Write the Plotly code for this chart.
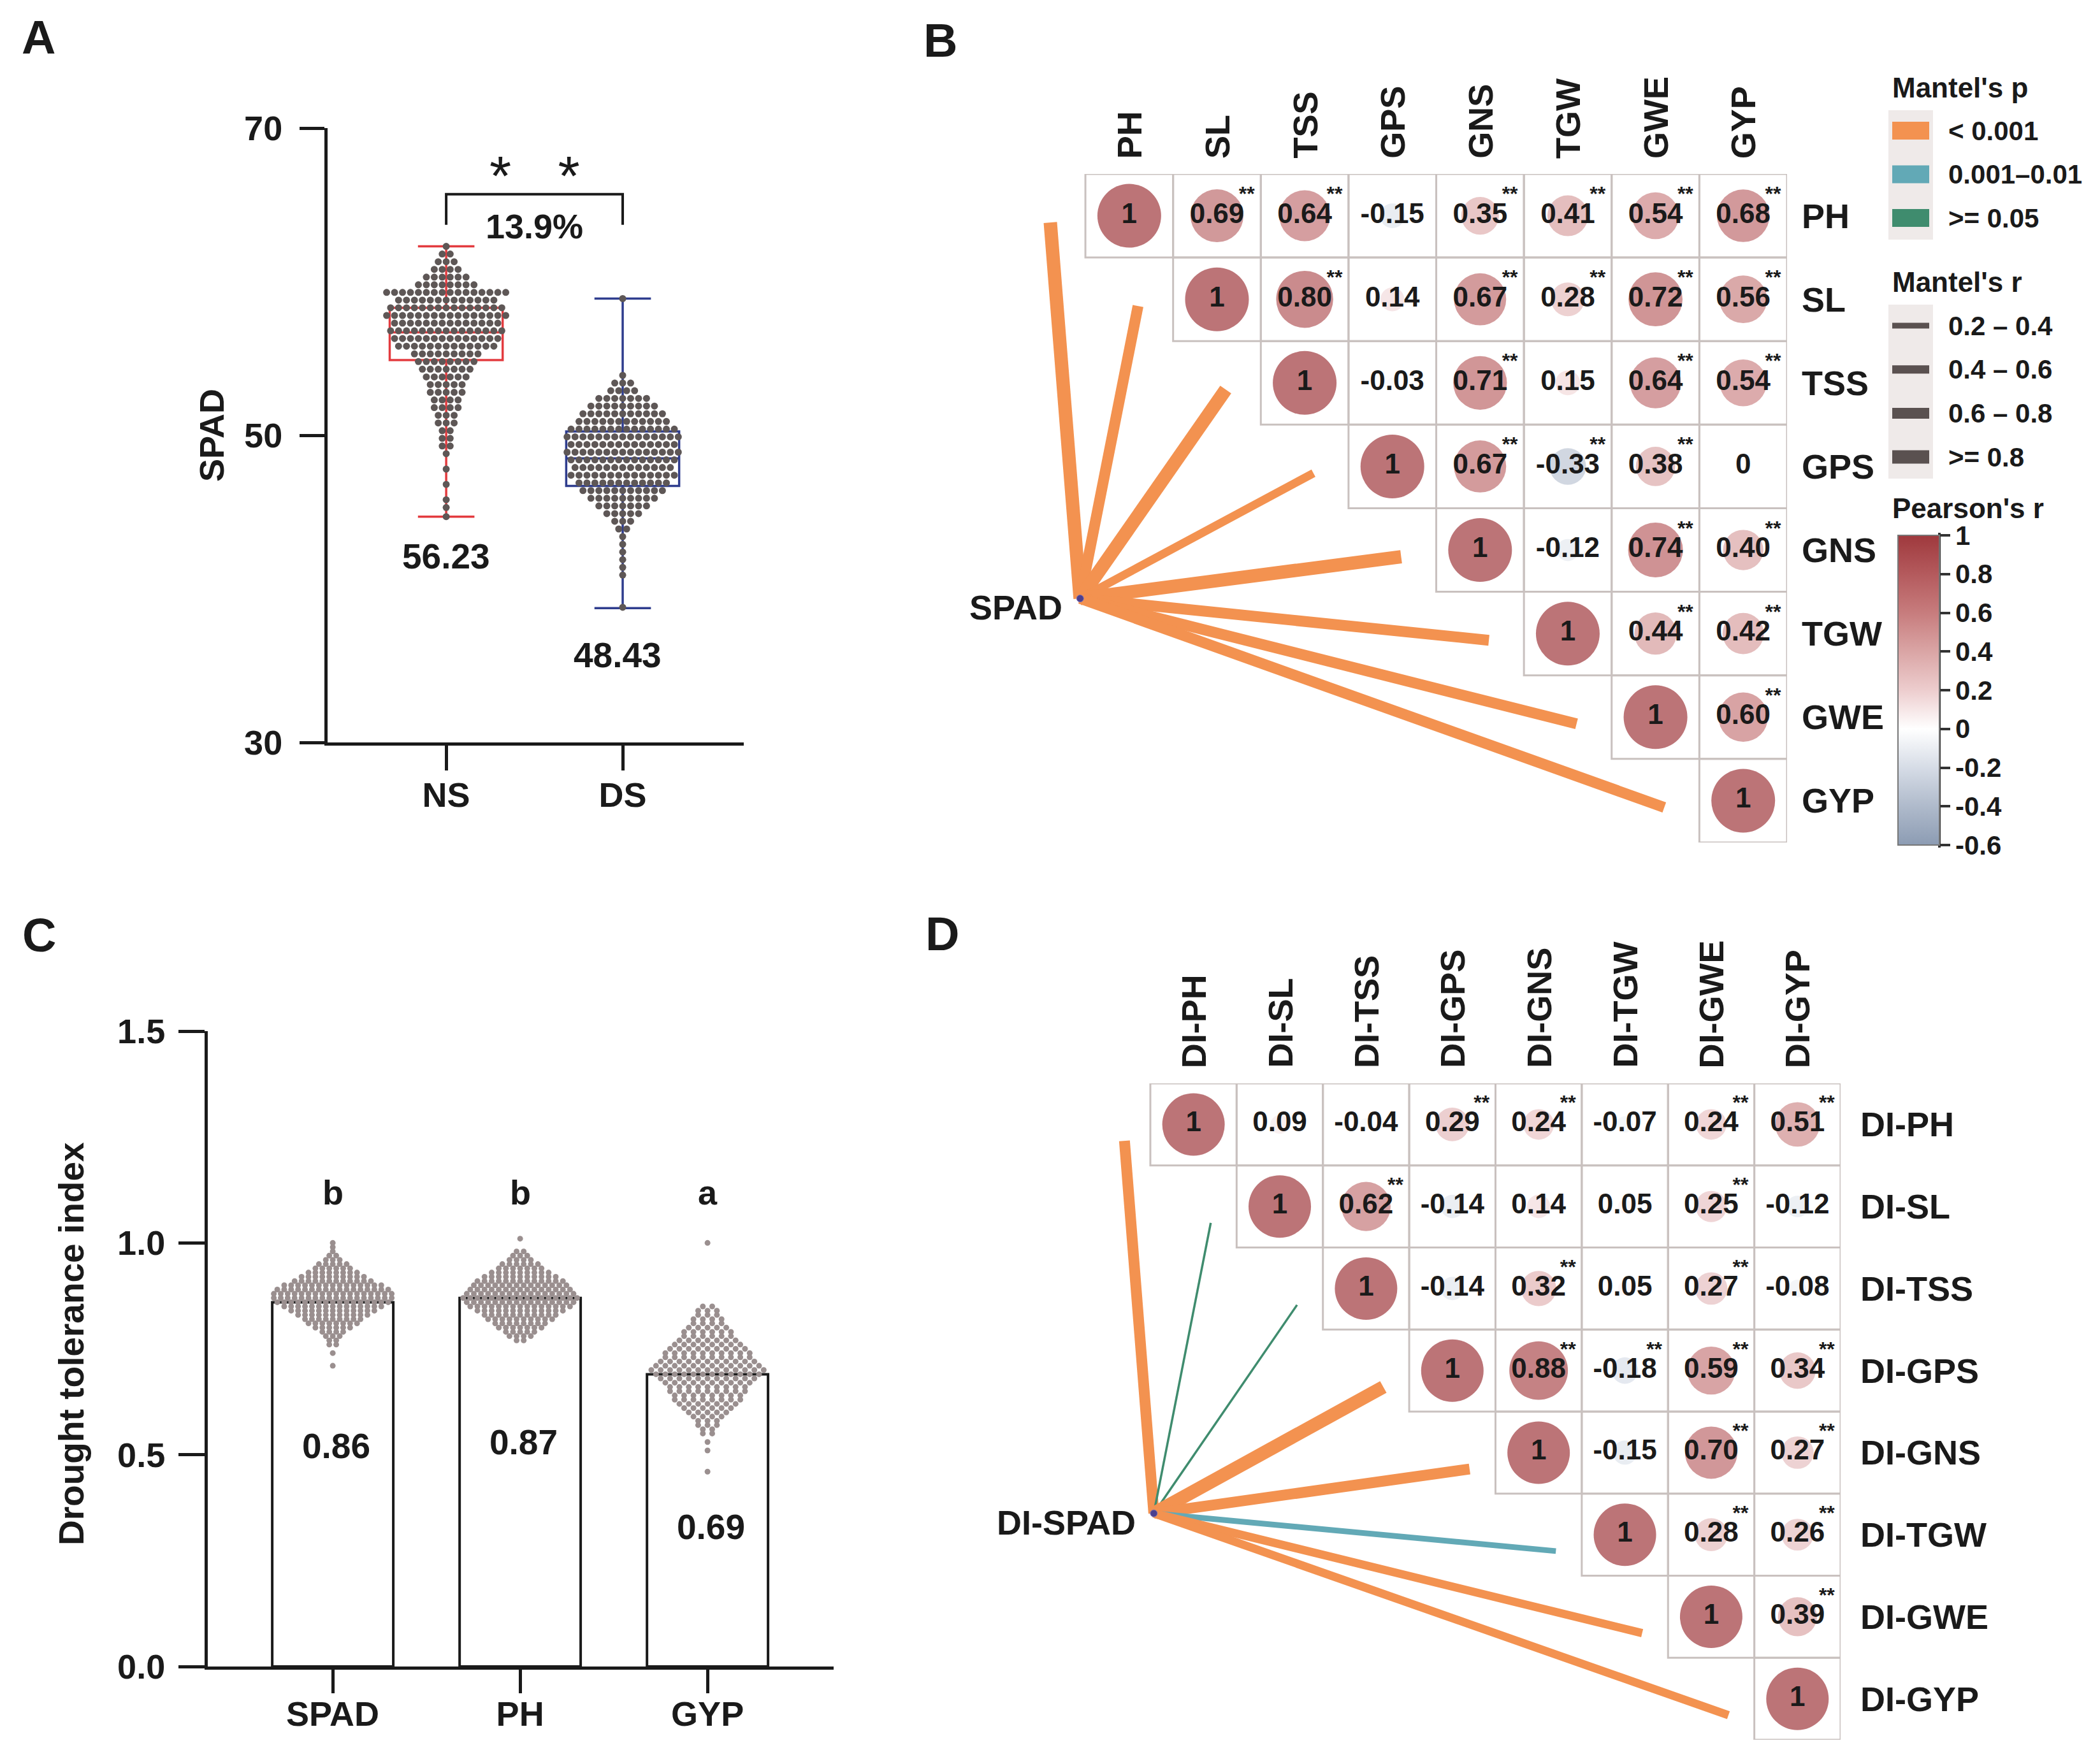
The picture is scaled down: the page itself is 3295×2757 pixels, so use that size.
import math
import plotly.graph_objects as go

W, H = 3295, 2757
FONT = "Liberation Sans, Arial, sans-serif"
INK = "#1a1a1a"

# ---------------- Panel A data ----------------
A_GROUPS = ["NS", "DS"]
A_MEANS = ["56.23", "48.43"]
A_Q1 = [54.9, 46.7]
A_MED = [56.7, 48.5]
A_Q3 = [58.3, 50.25]
A_LO = [44.7, 38.75]
A_HI = [62.3, 58.9]
A_COLORS = ["#E33B3F", "#2F3D8E"]
A_PCT = "13.9%"
NS_BINS = [62.3, 61.8, 61.3, 60.8, 60.3, 59.8, 59.3, 58.8, 58.3, 57.8, 57.3, 56.8, 56.3,
           55.8, 55.3, 54.8, 54.3, 53.8, 53.3, 52.8, 52.3, 51.8, 51.3, 50.8, 50.3, 49.8,
           49.3, 48.8, 47.8, 46.8, 45.8, 45.3, 44.7]
NS_COUNTS = [1, 2, 3, 4, 6, 8, 16, 13, 15, 16, 14, 15, 14, 13, 9, 8, 7, 6, 5, 5, 4, 4, 3,
             3, 2, 2, 2, 1, 1, 1, 1, 1, 1]
DS_BINS = [58.9, 53.9, 53.4, 52.9, 52.4, 51.9, 51.4, 50.9, 50.4, 49.9, 49.4, 48.9, 48.4,
           47.9, 47.4, 46.9, 46.4, 45.9, 45.4, 44.9, 44.4, 43.9, 43.4, 42.9, 42.4, 41.9,
           41.4, 40.9, 38.8]
DS_COUNTS = [1, 1, 3, 4, 7, 9, 11, 12, 14, 15, 14, 15, 14, 13, 14, 12, 11, 9, 7, 5, 3, 2,
             1, 1, 1, 1, 1, 1, 1]

# ---------------- Panel C data ----------------
C_TRAITS = ["SPAD", "PH", "GYP"]
C_MEANS = [0.86, 0.87, 0.69]
C_LETTERS = ["b", "b", "a"]
C_SPAD_BINS = [1.00, 0.99, 0.98, 0.97, 0.96, 0.95, 0.94, 0.93, 0.92, 0.91, 0.90, 0.89, 0.88,
               0.87, 0.86, 0.85, 0.84, 0.83, 0.82, 0.81, 0.80, 0.79, 0.78, 0.77, 0.76, 0.74, 0.71]
C_SPAD_COUNTS = [1, 1, 1, 2, 3, 5, 6, 8, 10, 12, 15, 17, 18, 18, 17, 15, 13, 11, 9, 8, 6, 4,
                 3, 2, 2, 1, 1]
C_PH_BINS = [1.01, 0.98, 0.97, 0.96, 0.95, 0.94, 0.93, 0.92, 0.91, 0.90, 0.89, 0.88, 0.87,
             0.86, 0.85, 0.84, 0.83, 0.82, 0.81, 0.80, 0.79, 0.78, 0.77]
C_PH_COUNTS = [1, 2, 3, 4, 6, 7, 9, 11, 13, 14, 15, 16, 17, 16, 15, 13, 11, 10, 8, 7, 5, 4, 2]
C_GYP_BINS = [1.00, 0.85, 0.84, 0.83, 0.82, 0.81, 0.80, 0.79, 0.78, 0.77, 0.76, 0.75, 0.74,
              0.73, 0.72, 0.71, 0.70, 0.69, 0.68, 0.67, 0.66, 0.65, 0.64, 0.63, 0.62, 0.61,
              0.60, 0.59, 0.58, 0.57, 0.56, 0.55, 0.53, 0.51, 0.46]
C_GYP_COUNTS = [1, 2, 3, 3, 4, 4, 5, 6, 6, 7, 8, 9, 10, 10, 11, 12, 13, 12, 11, 10, 9, 9, 8,
                8, 7, 6, 5, 4, 3, 3, 2, 2, 1, 1, 1]

# ---------------- Panel B data (upper triangle rows, starting at diagonal) -------------
B_TRAITS = ["PH", "SL", "TSS", "GPS", "GNS", "TGW", "GWE", "GYP"]
B_R = [
    [1, 0.69, 0.64, -0.15, 0.35, 0.41, 0.54, 0.68],
    [1, 0.80, 0.14, 0.67, 0.28, 0.72, 0.56],
    [1, -0.03, 0.71, 0.15, 0.64, 0.54],
    [1, 0.67, -0.33, 0.38, 0],
    [1, -0.12, 0.74, 0.40],
    [1, 0.44, 0.42],
    [1, 0.60],
    [1],
]
B_SIG = [
    [0, 1, 1, 0, 1, 1, 1, 1],
    [0, 1, 0, 1, 1, 1, 1],
    [0, 0, 1, 0, 1, 1],
    [0, 1, 1, 1, 0],
    [0, 0, 1, 1],
    [0, 1, 1],
    [0, 1],
    [0],
]
B_ENV = "SPAD"
B_MANTEL_P = ["<0.001"] * 8
B_MANTEL_R = [">=0.8", "0.6-0.8", ">=0.8", "0.4-0.6", ">=0.8", "0.6-0.8", "0.6-0.8", "0.6-0.8"]

# ---------------- Panel D data ----------------
D_TRAITS = ["DI-PH", "DI-SL", "DI-TSS", "DI-GPS", "DI-GNS", "DI-TGW", "DI-GWE", "DI-GYP"]
D_R = [
    [1, 0.09, -0.04, 0.29, 0.24, -0.07, 0.24, 0.51],
    [1, 0.62, -0.14, 0.14, 0.05, 0.25, -0.12],
    [1, -0.14, 0.32, 0.05, 0.27, -0.08],
    [1, 0.88, -0.18, 0.59, 0.34],
    [1, -0.15, 0.70, 0.27],
    [1, 0.28, 0.26],
    [1, 0.39],
    [1],
]
D_SIG = [
    [0, 0, 0, 1, 1, 0, 1, 1],
    [0, 1, 0, 0, 0, 1, 0],
    [0, 0, 1, 0, 1, 0],
    [0, 1, 1, 1, 1],
    [0, 0, 1, 1],
    [0, 1, 1],
    [0, 1],
    [0],
]
D_ENV = "DI-SPAD"
D_MANTEL_P = ["<0.001", ">=0.05", ">=0.05", "<0.001", "<0.001", "0.001-0.01", "<0.001", "<0.001"]
D_MANTEL_R = ["0.6-0.8", "<0.2", "<0.2", ">=0.8", "0.6-0.8", "0.2-0.4", "0.4-0.6", "0.4-0.6"]

P_LEVELS = ["<0.001", "0.001-0.01", ">=0.05"]
P_LABELS = ["< 0.001", "0.001\u20130.01", ">= 0.05"]
P_COLORS = {"<0.001": "#F39250", "0.001-0.01": "#62A9B6", ">=0.05": "#3F8C6E"}
R_LEVELS = ["0.2-0.4", "0.4-0.6", "0.6-0.8", ">=0.8"]
R_LABELS = ["0.2 \u2013 0.4", "0.4 \u2013 0.6", "0.6 \u2013 0.8", ">= 0.8"]
R_WIDTHS = {"<0.2": 3.5, "0.2-0.4": 9, "0.4-0.6": 13, "0.6-0.8": 17, ">=0.8": 21}
CB_TICKS = [1, 0.8, 0.6, 0.4, 0.2, 0, -0.2, -0.4, -0.6]

COLORSCALE = [[0.0, "#8C9CB3"], [0.125, "#AFBACB"], [0.25, "#D6DCE6"], [0.375, "#FFFFFF"],
              [0.5, "#EDCDCE"], [0.625, "#DAA5A5"], [0.75, "#C77C7D"], [0.875, "#B45A5D"],
              [1.0, "#9F393D"]]


def X(px):
    return px / W


def Y(py):
    return 1 - py / H


def fnt(size, bold=True, color=INK, family=FONT):
    return dict(family=family, size=size, color=color, weight=700 if bold else 400)


fig = go.Figure()
annotations = []
shapes = []


def ann(text, x, y, size=54, bold=True, xref="paper", yref="paper", xanchor="center",
        yanchor="middle", angle=0, xshift=0, yshift=0, color=INK):
    annotations.append(dict(text=text, x=x, y=y, xref=xref, yref=yref, xanchor=xanchor,
                            yanchor=yanchor, textangle=angle, xshift=xshift, yshift=yshift,
                            showarrow=False, font=fnt(size, bold, color)))


def swarm(bins, counts, center, dx):
    xs, ys = [], []
    for v, n in zip(bins, counts):
        for k in range(n):
            xs.append(center + (k - (n - 1) / 2) * dx)
            ys.append(v)
    return xs, ys


# ================= Panel A =================
for g, (bins, counts) in enumerate([(NS_BINS, NS_COUNTS), (DS_BINS, DS_COUNTS)]):
    xs, ys = swarm(bins, counts, g, 0.045)
    fig.add_trace(go.Scatter(x=xs, y=ys, mode="markers", xaxis="x", yaxis="y",
                             marker=dict(size=11, color="#5E5756", line=dict(width=0)),
                             hoverinfo="skip"))
for g in range(2):
    fig.add_trace(go.Box(x=[g], q1=[A_Q1[g]], median=[A_MED[g]], q3=[A_Q3[g]],
                         lowerfence=[A_LO[g]], upperfence=[A_HI[g]], width=0.64,
                         whiskerwidth=0.5, boxpoints=False, xaxis="x", yaxis="y",
                         line=dict(color=A_COLORS[g], width=3.5),
                         fillcolor="rgba(0,0,0,0)", hoverinfo="skip"))
# significance bracket
br_top = max(A_HI) + 3.4
fig.add_trace(go.Scatter(x=[0, 0, 1, 1], y=[br_top - 2.0, br_top, br_top, br_top - 2.0],
                         mode="lines", xaxis="x", yaxis="y",
                         line=dict(color=INK, width=4), hoverinfo="skip"))
ann("*\u00a0\u00a0\u00a0*", 0.5, br_top + 1.2, size=88, bold=False, xref="x", yref="y")
ann(A_PCT, 0.5, br_top - 2.1, size=54, xref="x", yref="y")
ann(A_MEANS[0], 0, 42.1, size=55, xref="x", yref="y")
ann(A_MEANS[1], 1, 35.7, size=55, xref="x", yref="y", xshift=-8)
ann("SPAD", X(332), Y(683), size=54, angle=-90)
ann("A", X(60), Y(58), size=74)

# ================= Panel C =================
fig.add_trace(go.Bar(x=[0, 1, 2], y=C_MEANS, width=0.646, xaxis="x3", yaxis="y3",
                     marker=dict(color="white", line=dict(color=INK, width=4)),
                     hoverinfo="skip"))
for k, (bins, counts, dx) in enumerate([(C_SPAD_BINS, C_SPAD_COUNTS, 0.037),
                                         (C_PH_BINS, C_PH_COUNTS, 0.038),
                                         (C_GYP_BINS, C_GYP_COUNTS, 0.05)]):
    xs, ys = swarm(bins, counts, k, dx)
    fig.add_trace(go.Scatter(x=xs, y=ys, mode="markers", xaxis="x3", yaxis="y3",
                             marker=dict(size=9, color="#9A8F8F", line=dict(width=0)),
                             hoverinfo="skip"))
for k in range(3):
    ann(f"{C_MEANS[k]:.2f}", k, C_MEANS[k] - (0.34 if k < 2 else 0.36), size=55,
        xref="x3", yref="y3", xshift=5)
    ann(C_LETTERS[k], k, 1.12, size=54, xref="x3", yref="y3")
ann("Drought tolerance index", X(112), Y(2109), size=55, angle=-90)
ann("C", X(61), Y(1467), size=74)


# ================= Panels B & D (Mantel + correlation matrix) =================
def matrix_panel(xa, ya, traits, R, SIG, env, mp, mr, node, end_off, size_full,
                 row_shift, col_shift):
    n = len(traits)
    for i in range(n):
        fig.add_trace(go.Scatter(x=[node[0], i + end_off[0]], y=[node[1], i + end_off[1]],
                                 mode="lines", xaxis=xa, yaxis=ya, hoverinfo="skip",
                                 line=dict(color=P_COLORS[mp[i]], width=R_WIDTHS[mr[i]])))
    fig.add_trace(go.Scatter(x=[node[0]], y=[node[1]], mode="markers", xaxis=xa, yaxis=ya,
                             marker=dict(size=11, color="#4B3F8F",
                                         line=dict(color="#7E73B5", width=1)),
                             hoverinfo="skip"))
    for i in range(n):
        for j in range(i, n):
            shapes.append(dict(type="rect", xref=xa, yref=ya, x0=j - 0.5, x1=j + 0.5,
                               y0=i - 0.5, y1=i + 0.5, layer="below",
                               line=dict(color="#C9C1BF", width=3)))
    cx, cy, cr, ctext, sx, sy = [], [], [], [], [], []
    for i in range(n):
        for k, r in enumerate(R[i]):
            j = i + k
            cx.append(j)
            cy.append(i)
            cr.append(r)
            ctext.append("1" if r == 1 else ("0" if r == 0 else f"{r:.2f}"))
            if SIG[i][k]:
                sx.append(j + 0.34)
                sy.append(i - 0.24)
    fig.add_trace(go.Scatter(x=cx, y=cy, mode="markers", xaxis=xa, yaxis=ya,
                             marker=dict(size=[size_full * math.sqrt(abs(r)) for r in cr],
                                         color=cr, coloraxis="coloraxis",
                                         line=dict(width=0)),
                             hoverinfo="skip"))
    fig.add_trace(go.Scatter(x=cx, y=cy, mode="text", text=ctext, xaxis=xa, yaxis=ya,
                             textfont=fnt(44), textposition="middle center",
                             hoverinfo="skip"))
    fig.add_trace(go.Scatter(x=sx, y=sy, mode="text", text=["**"] * len(sx), xaxis=xa,
                             yaxis=ya, textfont=fnt(32), textposition="middle center",
                             hoverinfo="skip"))
    for j, t in enumerate(traits):
        ann(t, j, -0.5, size=54, xref=xa, yref=ya, angle=-90, yanchor="bottom",
            yshift=col_shift)
        ann(t, n - 0.5, j, size=54, xref=xa, yref=ya, xanchor="left", xshift=row_shift)
    ann(env, node[0], node[1], size=54, xref=xa, yref=ya, xanchor="right", xshift=-26,
        yshift=-14)


matrix_panel("x2", "y2", B_TRAITS, B_R, B_SIG, B_ENV, B_MANTEL_P, B_MANTEL_R,
             node=(-0.56, 4.58), end_off=(-0.9, 0.08), size_full=100, row_shift=21,
             col_shift=22)
matrix_panel("x4", "y4", D_TRAITS, D_R, D_SIG, D_ENV, D_MANTEL_P, D_MANTEL_R,
             node=(-0.46, 4.74), end_off=(-0.8, 0.2), size_full=98, row_shift=29,
             col_shift=22)
ann("B", X(1475), Y(63), size=74)
ann("D", X(1478), Y(1465), size=74)

# ================= Legends =================
ann("Mantel's p", X(2967), Y(138), size=44, xanchor="left")
shapes.append(dict(type="rect", xref="paper", yref="paper", x0=X(2963), x1=X(3033),
                   y0=Y(173), y1=Y(376), fillcolor="#EFEAE9", line=dict(width=0),
                   layer="below"))
for k, (lvl, lab) in enumerate(zip(P_LEVELS, P_LABELS)):
    yc = 205 + k * 68.5
    shapes.append(dict(type="rect", xref="paper", yref="paper", x0=X(2969), x1=X(3027),
                       y0=Y(yc - 14), y1=Y(yc + 14), fillcolor=P_COLORS[lvl],
                       line=dict(width=0)))
    ann(lab, X(3055), Y(yc), size=42, xanchor="left")

ann("Mantel's r", X(2967), Y(442), size=44, xanchor="left")
shapes.append(dict(type="rect", xref="paper", yref="paper", x0=X(2963), x1=X(3033),
                   y0=Y(478), y1=Y(751), fillcolor="#EFEAE9", line=dict(width=0),
                   layer="below"))
for k, (lvl, lab) in enumerate(zip(R_LEVELS, R_LABELS)):
    yc = 511 + k * 68.7
    shapes.append(dict(type="line", xref="paper", yref="paper", x0=X(2969), x1=X(3027),
                       y0=Y(yc), y1=Y(yc), line=dict(color="#5A5150", width=R_WIDTHS[lvl])))
    ann(lab, X(3055), Y(yc), size=42, xanchor="left")

ann("Pearson's r", X(2967), Y(797), size=44, xanchor="left")
shapes.append(dict(type="line", xref="paper", yref="paper", x0=X(3043), x1=X(3043),
                   y0=Y(836), y1=Y(1330), line=dict(color="#333333", width=4)))

# ================= Layout =================
axis_common = dict(showline=True, linewidth=5, linecolor=INK, ticks="outside",
                   tickwidth=5, tickcolor=INK, showgrid=False, zeroline=False,
                   tickfont=fnt(54), automargin=False)
hidden = dict(visible=False, automargin=False, showgrid=False, zeroline=False)
fig.update_layout(
    template="none",
    width=W, height=H, autosize=False,
    margin=dict(l=0, r=0, t=0, b=0, pad=0, autoexpand=False),
    paper_bgcolor="white", plot_bgcolor="rgba(0,0,0,0)", showlegend=False,
    xaxis=dict(domain=[X(514), X(1167)], range=[-0.672, 1.686], tickvals=[0, 1],
               ticktext=A_GROUPS, ticklen=39, ticklabelstandoff=-8, anchor="y",
               **axis_common),
    yaxis=dict(domain=[Y(1165), Y(201)], range=[30, 70], tickvals=[30, 50, 70],
               ticklen=39, ticklabelstandoff=16, anchor="x", **axis_common),
    xaxis3=dict(domain=[X(326), X(1308)], range=[-0.667, 2.673], tickvals=[0, 1, 2],
                ticktext=C_TRAITS, ticklen=37, ticklabelstandoff=-14, anchor="y3",
                **axis_common),
    yaxis3=dict(domain=[Y(2615), Y(1618)], range=[0, 1.5], tickvals=[0, 0.5, 1.0, 1.5],
                ticktext=["0.0", "0.5", "1.0", "1.5"], ticklen=41, ticklabelstandoff=10,
                anchor="x3", **axis_common),
    xaxis2=dict(domain=[X(1703 - 2.5 * 137.6), X(2804)], range=[-3.0, 7.5], anchor="y2",
                **hidden),
    yaxis2=dict(domain=[Y(1322), Y(273)], range=[7.5, -0.5], anchor="x2", **hidden),
    xaxis4=dict(domain=[X(1805 - 2.5 * 135.4), X(2888)], range=[-3.0, 7.5], anchor="y4",
                **hidden),
    yaxis4=dict(domain=[Y(2730), Y(1700)], range=[7.5, -0.5], anchor="x4", **hidden),
    coloraxis=dict(cmin=-0.6, cmax=1, colorscale=COLORSCALE,
                   colorbar=dict(x=X(2978), xanchor="left", y=Y(840), yanchor="top",
                                 len=486, lenmode="pixels", thickness=65,
                                 thicknessmode="pixels", xpad=0, ypad=0, outlinewidth=2,
                                 outlinecolor="#777777", tickvals=CB_TICKS,
                                 ticktext=[("1" if v == 1 else ("0" if v == 0 else f"{v:g}"))
                                           for v in CB_TICKS],
                                 ticks="outside", ticklen=16, tickwidth=4,
                                 tickcolor="#333333", tickfont=fnt(42))),
    annotations=annotations, shapes=shapes,
)

fig.write_html("out.html", config={"displayModeBar": False},
               post_script="document.body.style.margin='0px';")
